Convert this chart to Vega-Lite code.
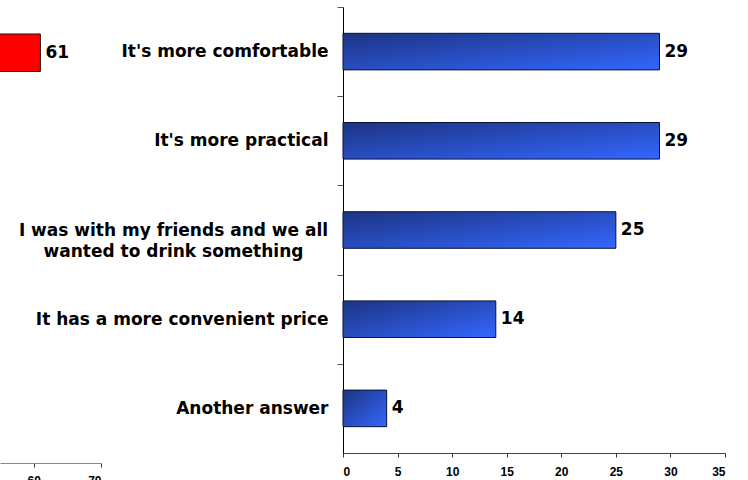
{
  "$schema": "https://vega.github.io/schema/vega-lite/v6.json",
  "background": "white",
  "padding": {"left": 0, "top": 6, "right": 0, "bottom": 0},
  "bounds": "flush",
  "spacing": 242,
  "config": {
    "view": {"stroke": null},
    "axis": {"grid": false}
  },
  "hconcat": [
    {
      "width": 101,
      "height": 456,
      "data": {"values": [{"group": "Total", "value": 61}]},
      "encoding": {
        "y": {
          "field": "group",
          "type": "nominal",
          "axis": null,
          "scale": {"paddingInner": 0.8208, "paddingOuter": 1, "align": 0.0645}
        }
      },
      "layer": [
        {
          "mark": {"type": "bar", "fill": "#ff0000", "stroke": "#2a1010", "strokeWidth": 1, "clip": true},
          "encoding": {
            "x": {
              "field": "value",
              "type": "quantitative",
              "scale": {"domain": [55, 70], "zero": false, "nice": false},
              "axis": {
                "title": null,
                "values": [60, 70],
                "labelFont": "Liberation Sans",
                "labelFontWeight": "bold",
                "labelFontSize": 12,
                "labelColor": "#000",
                "labelPadding": 8,
                "tickSize": 4,
                "tickColor": "#333",
                "domainColor": "#888"
              }
            },
            "x2": {"datum": 0}
          }
        },
        {
          "mark": {"type": "text", "align": "left", "baseline": "middle", "dx": 5, "font": "DejaVu Sans", "fontWeight": "bold", "fontSize": 17, "color": "#000"},
          "encoding": {
            "x": {"field": "value", "type": "quantitative"},
            "text": {"field": "value", "type": "quantitative"}
          }
        }
      ]
    },
    {
      "width": 382,
      "height": 446,
      "data": {
        "values": [
          {"label": "It's more comfortable", "value": 29},
          {"label": "It's more practical", "value": 29},
          {"label": "I was with my friends and we all\nwanted to drink something", "value": 25},
          {"label": "It has a more convenient price", "value": 14},
          {"label": "Another answer", "value": 4}
        ]
      },
      "encoding": {
        "y": {
          "field": "label",
          "type": "nominal",
          "sort": null,
          "scale": {"paddingInner": 0.59, "paddingOuter": 0.295},
          "axis": {
            "title": null,
            "bandPosition": 0,
            "tickOffset": -26.3,
            "labelOffset": 26.3,
            "tickSize": 6,
            "tickColor": "#555",
            "domainColor": "#000",
            "labelFont": "DejaVu Sans",
            "labelFontWeight": "bold",
            "labelFontSize": 17,
            "labelColor": "#000",
            "labelAlign": {"condition": {"test": "indexof(datum.value, 'friends') >= 0", "value": "center"}, "value": "right"},
            "labelPadding": {"condition": {"test": "indexof(datum.value, 'friends') >= 0", "value": 164}, "value": 9},
            "labelLimit": 0,
            "labelLineHeight": 21,
            "labelExpr": "split(datum.label, '\\n')"
          }
        }
      },
      "layer": [
        {
          "mark": {
            "type": "bar",
            "fill": {
              "gradient": "linear",
              "x1": 0, "y1": 0, "x2": 1, "y2": 1,
              "stops": [
                {"offset": 0, "color": "#1c3482"},
                {"offset": 1, "color": "#3467ff"}
              ]
            },
            "stroke": "#0a1233",
            "strokeWidth": 1
          },
          "encoding": {
            "x": {
              "field": "value",
              "type": "quantitative",
              "scale": {"domain": [0, 35], "nice": false},
              "axis": {
                "title": null,
                "values": [0, 5, 10, 15, 20, 25, 30, 35],
                "labelFont": "Liberation Sans",
                "labelFontWeight": "bold",
                "labelFontSize": 12,
                "labelColor": "#000",
                "labelPadding": 9,
                "tickSize": 4,
                "tickColor": "#333",
                "domainColor": "#444"
              }
            }
          }
        },
        {
          "mark": {"type": "text", "align": "left", "baseline": "middle", "dx": 5, "font": "DejaVu Sans", "fontWeight": "bold", "fontSize": 17, "color": "#000"},
          "encoding": {
            "x": {"field": "value", "type": "quantitative"},
            "text": {"field": "value", "type": "quantitative"}
          }
        }
      ]
    }
  ]
}
